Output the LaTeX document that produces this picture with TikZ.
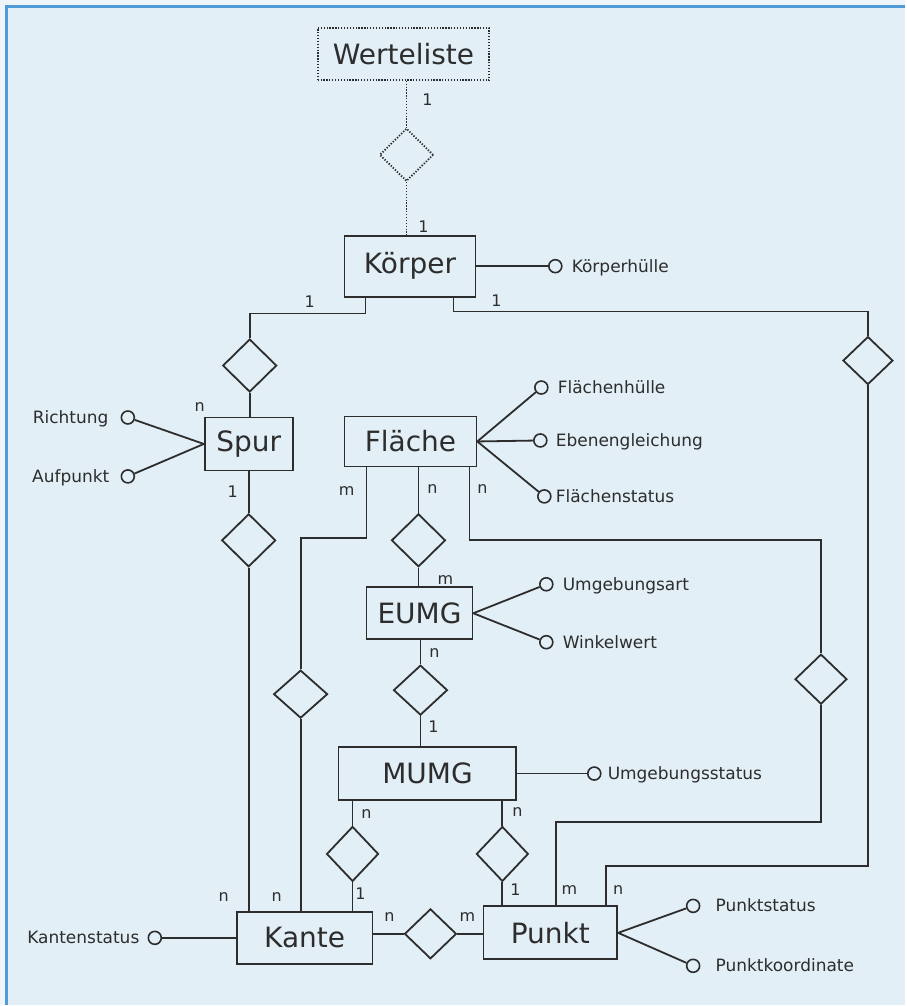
\documentclass[tikz,border=0pt]{standalone}
\usepackage{fontspec}
\setmainfont{DejaVu Sans}
\usetikzlibrary{shapes.geometric}
\definecolor{bg}{RGB}{226,239,246}
\definecolor{outer}{RGB}{238,245,250}
\definecolor{frame}{RGB}{80,155,215}
\definecolor{ink}{RGB}{45,45,45}
\begin{document}
\begin{tikzpicture}[x=1pt,y=-1pt,
  ent/.style={draw=ink, line width=1.8pt, rectangle, inner sep=0pt, font=\fontsize{28}{30}\selectfont, text=ink},
  rel/.style={draw=ink, line width=1.8pt, diamond, minimum width=54pt, minimum height=53pt, inner sep=0pt},
  attr/.style={draw=ink, line width=1.6pt, circle, minimum size=13pt, inner sep=0pt},
  lab/.style={font=\fontsize{17}{19}\selectfont, text=ink, inner sep=0pt, text height=12pt, text depth=0pt},
  card/.style={font=\fontsize{16}{17}\selectfont, text=ink, inner sep=0pt},
  con/.style={draw=ink, line width=1.8pt},
  dot/.style={dash pattern=on 1.3pt off 1.6pt}
]
% background and frame
\fill[outer] (0,0) rectangle (906,1006);
\fill[bg] (6.5,6.5) rectangle (906,1006);
\draw[frame, line width=2.5pt] (6.5,1006) -- (6.5,6.5) -- (906,6.5);
\useasboundingbox (0,0) rectangle (906,1006);

% entities
\node[ent, dot, minimum width=172pt, minimum height=52pt] (werte) at (404,54) {Werteliste};
\node[ent, minimum width=131pt, minimum height=61pt] (koerper) at (410.5,266.5) {Körper};
\node[ent, minimum width=88pt, minimum height=53pt] (spur) at (249,444.5) {Spur};
\node[ent, minimum width=132pt, minimum height=50pt] (flaeche) at (411,442) {Fläche};
\node[ent, minimum width=106pt, minimum height=52pt] (eumg) at (420,614) {EUMG};
\node[ent, minimum width=178pt, minimum height=53pt] (mumg) at (428,774.5) {MUMG};
\node[ent, minimum width=136pt, minimum height=52pt] (kante) at (305,939) {Kante};
\node[ent, minimum width=134pt, minimum height=53pt] (punkt) at (551,934) {Punkt};

% relationships
\node[rel, dot] (d0) at (407,155) {};
\node[rel] (d1) at (250,366) {};
\node[rel, minimum width=50pt, minimum height=48pt] (d2) at (869,361) {};
\node[rel] (d3) at (249,541) {};
\node[rel] (d4) at (419,541) {};
\node[rel, minimum height=48pt] (d5) at (301,695) {};
\node[rel, minimum width=52pt, minimum height=50pt] (d6) at (822,680) {};
\node[rel, minimum height=50pt] (d7) at (421,691) {};
\node[rel, minimum width=52pt, minimum height=55pt] (d8) at (353,855) {};
\node[rel, minimum width=52pt, minimum height=55pt] (d9) at (503,855) {};
\node[rel, minimum width=52pt, minimum height=50pt] (d10) at (431,935) {};

% attributes
\node[attr, label={[lab, label distance=9pt]right:Körperhülle}] (akh) at (556,266.5) {};
\node[attr, label={[lab, label distance=12pt]left:Richtung}] (ari) at (128,418) {};
\node[attr, label={[lab, label distance=11pt]left:Aufpunkt}] (aau) at (128,477) {};
\node[attr, label={[lab, label distance=9pt]right:Flächenhülle}] (afh) at (542,388) {};
\node[attr, label={[lab, label distance=8pt]right:Ebenengleichung}] (aeg) at (541,441) {};
\node[attr, label={[lab, label distance=4pt]right:Flächenstatus}] (afs) at (545,497) {};
\node[attr, label={[lab, label distance=9pt]right:Umgebungsart}] (aua) at (547,585) {};
\node[attr, label={[lab, label distance=9pt]right:Winkelwert}] (aww) at (547,643) {};
\node[attr, label={[lab, label distance=6pt]right:Umgebungsstatus}] (aus) at (595,774.5) {};
\node[attr, label={[lab, label distance=8pt]left:Kantenstatus}] (aks) at (155,939) {};
\node[attr, label={[lab, label distance=15pt]right:Punktstatus}] (aps) at (694,907) {};
\node[attr, label={[lab, label distance=15pt]right:Punktkoordinate}] (apk) at (694,967) {};

% Werteliste - Koerper (dotted)
\draw[con, dot] (werte.south -| d0.north) -- (d0.north);
\draw[con, dot] (d0.south) -- (koerper.north -| d0.south);

% Koerper - Spur
\draw[con] ([xshift=-44.5pt]koerper.south) -- ++(0,16) -| (d1.north);
\draw[con] (d1.south) -- (spur.north -| d1.south);

% Koerper - Punkt (right loop)
\draw[con] ([xshift=43.5pt]koerper.south) -- ++(0,14) -| (d2.north);
\draw[con] (d2.south) -- ++(0,481) -| ([xshift=56pt]punkt.north);

% Spur - Kante
\draw[con] (spur.south -| d3.north) -- (d3.north);
\draw[con] (d3.south) -- (kante.north -| d3.south);

% Flaeche - Kante
\draw[con] ([xshift=-44pt]flaeche.south) -- ++(0,71) -| (d5.north);
\draw[con] (d5.south) -- (kante.north -| d5.south);

% Flaeche - EUMG
\draw[con] (flaeche.south -| d4.north) -- (d4.north);
\draw[con] (d4.south) -- (eumg.north -| d4.south);

% Flaeche - Punkt
\draw[con] ([xshift=59pt]flaeche.south) -- ++(0,73) -| (d6.north);
\draw[con] (d6.south) -- ++(0,117) -| ([xshift=6pt]punkt.north);

% EUMG - MUMG
\draw[con] (eumg.south -| d7.north) -- (d7.north);
\draw[con] (d7.south) -- (mumg.north -| d7.south);

% MUMG - Kante, MUMG - Punkt
\draw[con] (mumg.south -| d8.north) -- (d8.north);
\draw[con] (d8.south) -- (kante.north -| d8.south);
\draw[con] (mumg.south -| d9.north) -- (d9.north);
\draw[con] (d9.south) -- (punkt.north -| d9.south);

% Kante - Punkt
\draw[con] (kante.east |- d10.west) -- (d10.west);
\draw[con] (d10.east) -- (punkt.west |- d10.east);

% attribute lines
\draw[con] (koerper.east) -- (akh);
\draw[con] (spur.west) -- (ari);
\draw[con] (spur.west) -- (aau);
\draw[con] (flaeche.east) -- (afh);
\draw[con] (flaeche.east) -- (aeg);
\draw[con] (flaeche.east) -- (afs);
\draw[con] (eumg.east) -- (aua);
\draw[con] (eumg.east) -- (aww);
\draw[con] (mumg.east) -- (aus);
\draw[con] (kante.west) -- (aks);
\draw[con] (punkt.east) -- (aps);
\draw[con] (punkt.east) -- (apk);

% cardinalities
\node[card] (c1) at (428,100) {1};
\node[card] (c2) at (424,227) {1};
\node[card] (c3) at (310,302) {1};
\node[card] (c4) at (497,301) {1};
\node[card] (c5) at (200,408) {n};
\node[card] (c6) at (233,492) {1};
\node[card] (c7) at (347,492) {m};
\node[card] (c8) at (433,490) {n};
\node[card] (c9) at (483,490) {n};
\node[card] (c10) at (446,581) {m};
\node[card] (c11) at (435,654) {n};
\node[card] (c12) at (434,728) {1};
\node[card] (c13) at (367,815) {n};
\node[card] (c14) at (518,813) {n};
\node[card] (c15) at (224,898) {n};
\node[card] (c16) at (277,898) {n};
\node[card] (c17) at (361,895) {1};
\node[card] (c18) at (516,891) {1};
\node[card] (c19) at (570,891) {m};
\node[card] (c20) at (619,891) {n};
\node[card] (c21) at (390,918) {n};
\node[card] (c22) at (468,918) {m};
\end{tikzpicture}
\end{document}
